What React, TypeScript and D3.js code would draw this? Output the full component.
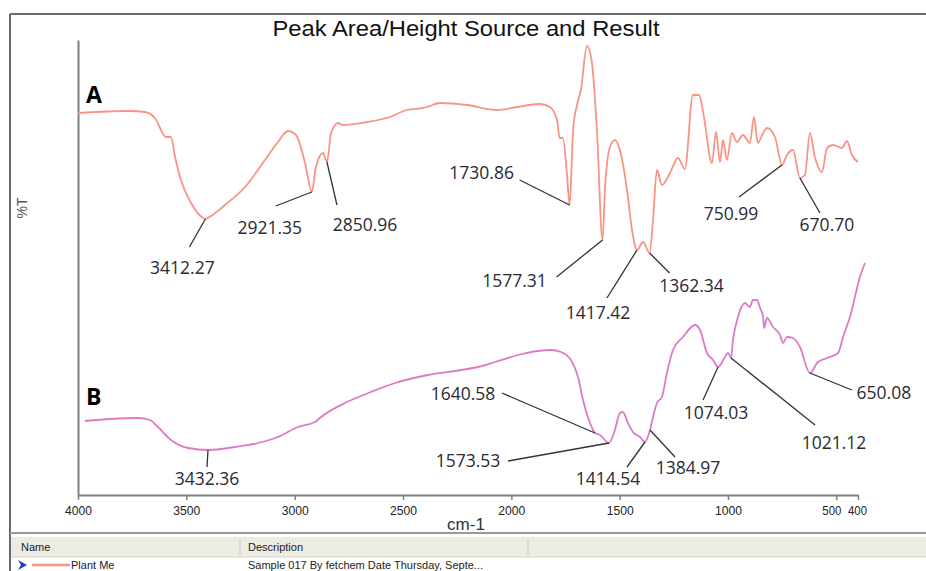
import { useEffect, useRef } from 'react';
import * as d3 from 'd3';

// spectrum A: [wavenumber cm-1, %T]
const specA: [number, number][] = [
  [4000, 76.4], [3769, 76.8], [3691, 76.6], [3645, 75.4], [3594, 71.6], [3571, 71.6], [3552, 67.6],
  [3525, 63], [3478, 58.4], [3423, 55.4], [3412, 55.2], [3386, 55.8], [3322, 58], [3229, 61.6],
  [3137, 67], [3077, 70.6], [3031, 72.8], [2994, 72], [2952, 66.4], [2921, 60.6], [2902, 65.6],
  [2869, 68.4], [2851, 66.6], [2832, 72.4], [2800, 74.4], [2777, 74], [2666, 74.6], [2560, 75.6],
  [2482, 77], [2408, 77.4], [2389, 77.6], [2329, 78.4], [2205, 78], [2066, 77], [1974, 77.6],
  [1868, 78.2], [1822, 77.6], [1789, 75], [1777, 71.4], [1762, 71.4], [1743, 64], [1731, 58],
  [1715, 73], [1697, 78], [1679, 81], [1651, 89.8], [1628, 86.4], [1605, 73], [1579, 51],
  [1568, 61], [1545, 69.6], [1522, 71], [1499, 69], [1466, 61], [1443, 53], [1420, 49],
  [1392, 50.6], [1362, 48.4], [1346, 55], [1328, 65], [1305, 62], [1268, 64.4], [1231, 67.4],
  [1199, 65.2], [1162, 80], [1134, 80], [1115, 76.6], [1074, 66.4], [1055, 72.6], [1037, 66.6],
  [1023, 71], [1005, 67], [982, 72.4], [959, 70.6], [931, 72], [899, 70.4], [880, 75.6],
  [862, 70.4], [838, 72.4], [820, 73.4], [783, 71.6], [751, 66], [728, 68], [700, 69],
  [668, 63.4], [645, 64], [622, 72.4], [599, 67.6], [566, 64.6], [543, 69.4], [515, 70],
  [474, 69.4], [451, 70.8], [428, 68], [400, 66.6],
];

// spectrum B
const specB: [number, number][] = [
  [3968, 14.8], [3848, 15.2], [3723, 15.4], [3668, 15], [3631, 13.6], [3571, 11], [3492, 9.4],
  [3400, 9], [3275, 9.6], [3169, 10.4], [3077, 11.6], [2985, 13.6], [2906, 14.6], [2878, 15.6],
  [2768, 18.4], [2648, 20.6], [2537, 22.4], [2385, 24], [2232, 25], [2154, 25.6], [2075, 26.6],
  [1969, 28], [1877, 28.8], [1817, 29], [1771, 28.6], [1725, 27], [1692, 23.6], [1669, 19],
  [1637, 14.4], [1614, 12.4], [1591, 12], [1549, 10.4], [1522, 13], [1499, 16.4], [1485, 16.6],
  [1462, 14.4], [1439, 12.6], [1406, 11.6], [1383, 10.6], [1360, 13], [1346, 15.6], [1328, 18.4],
  [1305, 19.6], [1282, 24.4], [1254, 29], [1208, 31.6], [1152, 34], [1129, 33], [1097, 28.4],
  [1069, 27], [1046, 25.6], [1014, 27.6], [1000, 28.4], [986, 27.4], [977, 31], [954, 35.6],
  [922, 38.4], [899, 37.6], [885, 39], [866, 39], [852, 37.4], [838, 35.6], [834, 33.4],
  [820, 35.4], [792, 33.6], [760, 32], [746, 30.4], [728, 31.6], [700, 31.4], [668, 29.6],
  [622, 24.4], [585, 26.6], [543, 27.4], [492, 28.4], [469, 31.6], [437, 35.6], [391, 43.6],
  [368, 46.4],
];

// picked peaks: label text and where the leader touches the trace
const peaksA = [
  { label: '3412.27', wn: 3412 }, { label: '2921.35', wn: 2921 }, { label: '2850.96', wn: 2851 },
  { label: '1730.86', wn: 1731 }, { label: '1577.31', wn: 1579 }, { label: '1417.42', wn: 1420 },
  { label: '1362.34', wn: 1362 }, { label: '750.99', wn: 751 }, { label: '670.70', wn: 668 },
];
const peaksB = [
  { label: '3432.36', wn: 3400 }, { label: '1640.58', wn: 1614 }, { label: '1573.53', wn: 1549 },
  { label: '1414.54', wn: 1383 }, { label: '1384.97', wn: 1360 }, { label: '1074.03', wn: 1046 },
  { label: '1021.12', wn: 986 }, { label: '650.08', wn: 622 },
];

const xTicks = [4000, 3500, 3000, 2500, 2000, 1500, 1000, 500, 400];

const W = 926;
const H = 571;

// leader end dx,dy and text centre dx,dy relative to the peak point (px)
const labelOffsets: Record<string, number[]> = {
  '3412.27': [-16, 28, -23, 48],
  '2921.35': [-36, 14, -42, 35],
  '2850.96': [10, 43, 38, 62],
  '1730.86': [-50, -25, -88, -33],
  '1577.31': [-46, 37, -88, 40],
  '1417.42': [-30, 48, -39, 62],
  '1362.34': [20, 20, 42, 32],
  '750.99': [-43, 32, -51, 48],
  '670.70': [20, 35, 27, 46],
  '3432.36': [-1, 17, -1, 28],
  '1640.58': [-93, -40, -132, -40],
  '1573.53': [-101, 18, -141, 17],
  '1414.54': [-18, 25, -37, 36],
  '1384.97': [25, 27, 38, 37],
  '1074.03': [-15, 33, -2, 45],
  '1021.12': [84, 67, 103, 84],
  '650.08': [42, 17, 74, 19],
};

function valueAt(spec: [number, number][], wn: number) {
  const hit = spec.find(d => d[0] === wn);
  if (hit) return hit[1];
  const i = spec.findIndex(d => d[0] < wn);
  const a = spec[i - 1], b = spec[i];
  return a[1] + (b[1] - a[1]) * (a[0] - wn) / (a[0] - b[0]);
}

export default function App() {
  const svgRef = useRef<SVGSVGElement>(null);

  useEffect(() => {
    const svg = d3.select(svgRef.current);
    svg.selectAll('*').remove();

    const x = d3.scaleLinear().domain([4000, 400]).range([78, 858]);
    const y = d3.scaleLinear().domain([0, 91]).range([495, 40]);

    svg.append('rect').attr('width', W).attr('height', H).attr('fill', '#fff');

    // window frame
    svg.append('line').attr('x1', 10).attr('x2', W).attr('y1', 14).attr('y2', 14)
      .attr('stroke', '#6a6a6a').attr('stroke-width', 2);
    svg.append('line').attr('x1', 10).attr('x2', 10).attr('y1', 14).attr('y2', H)
      .attr('stroke', '#6a6a6a').attr('stroke-width', 2);

    svg.append('text')
      .attr('x', 466).attr('y', 36)
      .attr('text-anchor', 'middle')
      .attr('font-family', "'Liberation Sans', Arial, sans-serif")
      .attr('font-size', 22)
      .attr('textLength', 387)
      .attr('lengthAdjust', 'spacingAndGlyphs')
      .attr('fill', '#111')
      .text('Peak Area/Height Source and Result');

    // axes
    const xAxis = svg.append('g')
      .attr('transform', 'translate(0,495)')
      .call(d3.axisBottom(x).tickValues(xTicks).tickSize(5).tickSizeOuter(0).tickFormat(d3.format('d')));
    xAxis.select('.domain').attr('stroke', '#808080').attr('stroke-width', 2);
    xAxis.selectAll('.tick line').attr('stroke', '#808080').attr('stroke-width', 1.5);
    xAxis.selectAll<SVGTextElement, number>('.tick text')
      .attr('font-family', "'Liberation Sans', Arial, sans-serif")
      .attr('font-size', 13)
      .attr('fill', '#222')
      .attr('dy', '0.9em')
      .attr('dx', d => (d === 500 ? -5 : d === 400 ? -1 : 0))
      .attr('textLength', d => (String(d).length === 4 ? 27 : 19))
      .attr('lengthAdjust', 'spacingAndGlyphs');

    const yAxis = svg.append('g')
      .attr('transform', 'translate(78,0)')
      .call(d3.axisLeft(y).tickValues([]).tickSizeOuter(0));
    yAxis.select('.domain').attr('stroke', '#808080').attr('stroke-width', 2);

    svg.append('text')
      .attr('x', 466).attr('y', 530)
      .attr('text-anchor', 'middle')
      .attr('font-family', "'Liberation Sans', Arial, sans-serif")
      .attr('font-size', 17)
      .attr('fill', '#333')
      .text('cm-1');

    svg.append('text')
      .attr('transform', 'translate(27,208) rotate(-90)')
      .attr('text-anchor', 'middle')
      .attr('font-family', "'Liberation Sans', Arial, sans-serif")
      .attr('font-size', 14)
      .attr('fill', '#555')
      .text('%T');

    // traces
    const line = d3.line<[number, number]>()
      .x(d => x(d[0]))
      .y(d => y(d[1]))
      .curve(d3.curveMonotoneX);

    svg.append('path').datum(specA)
      .attr('d', line).attr('fill', 'none')
      .attr('stroke', '#f99484').attr('stroke-width', 1.8);
    svg.append('path').datum(specB)
      .attr('d', line).attr('fill', 'none')
      .attr('stroke', '#dc7ac8').attr('stroke-width', 1.8);

    svg.append('text').attr('x', 86).attr('y', 103)
      .attr('font-family', "'Open Sans', sans-serif").attr('font-weight', 700)
      .attr('font-size', 23).attr('fill', '#000').text('A');
    svg.append('text').attr('x', 86).attr('y', 405)
      .attr('font-family', "'Open Sans', sans-serif").attr('font-weight', 700)
      .attr('font-size', 23).attr('fill', '#000').text('B');

    // peak labels
    const drawPeaks = (spec: [number, number][], peaks: { label: string; wn: number }[]) => {
      const g = svg.append('g');
      peaks.forEach(p => {
        const px = x(p.wn);
        const py = y(valueAt(spec, p.wn));
        const [lx, ly, tx, ty] = labelOffsets[p.label];
        g.append('line')
          .attr('x1', px).attr('y1', py)
          .attr('x2', px + lx).attr('y2', py + ly)
          .attr('stroke', '#333').attr('stroke-width', 1.3);
        g.append('text')
          .attr('x', px + tx).attr('y', py + ty)
          .attr('text-anchor', 'middle')
          .attr('dominant-baseline', 'central')
          .attr('font-family', "'Open Sans', sans-serif")
          .attr('font-size', 17.5)
          .attr('fill', '#2a2a33')
          .text(p.label);
      });
    };
    drawPeaks(specA, peaksA);
    drawPeaks(specB, peaksB);

    // legend table strip
    svg.append('line').attr('x1', 10).attr('x2', W).attr('y1', 533).attr('y2', 533)
      .attr('stroke', '#9a9a9a').attr('stroke-width', 2);
    svg.append('rect').attr('x', 11).attr('y', 537).attr('width', W - 11).attr('height', 20)
      .attr('fill', '#ecebe4');
    svg.append('line').attr('x1', 11).attr('x2', W).attr('y1', 557).attr('y2', 557)
      .attr('stroke', '#d6d3c8');
    [240, 528].forEach(d => {
      svg.append('line').attr('x1', d).attr('x2', d).attr('y1', 539).attr('y2', 555)
        .attr('stroke', '#d0cdc0');
    });
    const tableFont = "'Liberation Sans', Arial, sans-serif";
    svg.append('text').attr('x', 21).attr('y', 551).attr('font-family', tableFont)
      .attr('font-size', 11).attr('fill', '#222').text('Name');
    svg.append('text').attr('x', 248).attr('y', 551).attr('font-family', tableFont)
      .attr('font-size', 11).attr('fill', '#222').text('Description');
    svg.append('path').attr('d', 'M18,560 L27,565 L18,570 L21,565 Z').attr('fill', '#1b3fc6');
    svg.append('line').attr('x1', 32).attr('x2', 70).attr('y1', 565).attr('y2', 565)
      .attr('stroke', '#f99484').attr('stroke-width', 2.5);
    svg.append('text').attr('x', 71).attr('y', 569).attr('font-family', tableFont)
      .attr('font-size', 11).attr('fill', '#222').text('Plant Me');
    svg.append('text').attr('x', 248).attr('y', 569).attr('font-family', tableFont)
      .attr('font-size', 11).attr('fill', '#222').text('Sample 017 By fetchem Date Thursday, Septe...');
  }, []);

  return (
    <svg ref={svgRef} width={W} height={H}
      style={{ position: 'absolute', left: 0, top: 0, display: 'block' }} />
  );
}
